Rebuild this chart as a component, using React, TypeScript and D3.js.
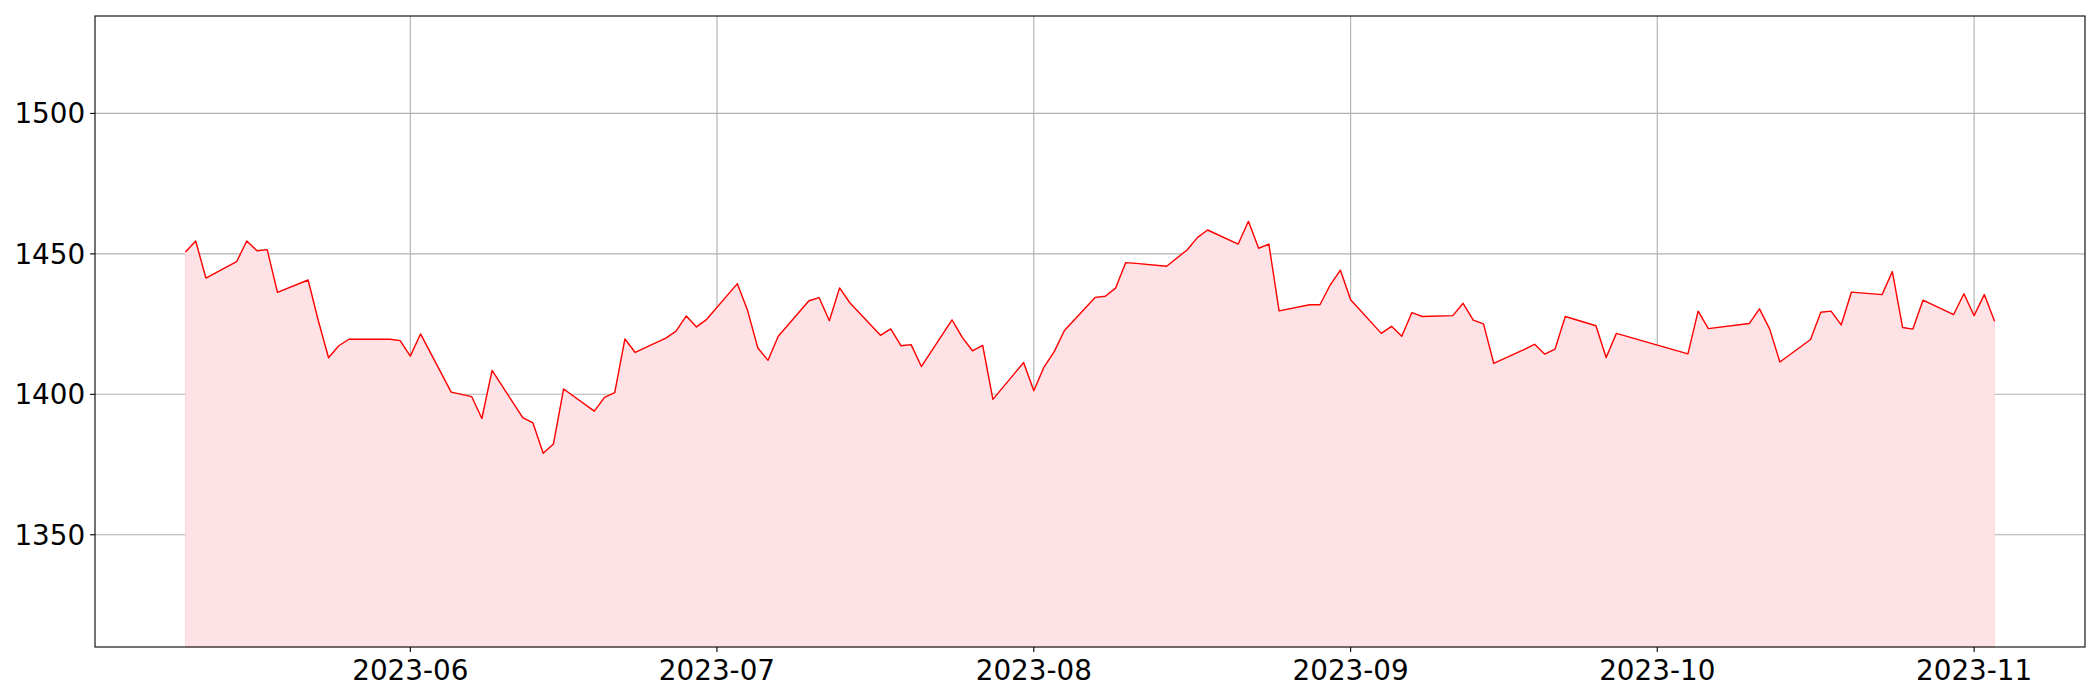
import React from "react";
import * as d3 from "d3";

const dates: string[] = [
  "2023-05-10","2023-05-11","2023-05-12","2023-05-15","2023-05-16","2023-05-17","2023-05-18","2023-05-19",
  "2023-05-22","2023-05-23","2023-05-24","2023-05-25","2023-05-26","2023-05-30","2023-05-31",
  "2023-06-01","2023-06-02","2023-06-05","2023-06-07","2023-06-08","2023-06-09","2023-06-12","2023-06-13",
  "2023-06-14","2023-06-15","2023-06-16","2023-06-19","2023-06-20","2023-06-21","2023-06-22","2023-06-23",
  "2023-06-26","2023-06-27","2023-06-28","2023-06-29","2023-06-30",
  "2023-07-03","2023-07-04","2023-07-05","2023-07-06","2023-07-07","2023-07-10","2023-07-11","2023-07-12",
  "2023-07-13","2023-07-14","2023-07-17","2023-07-18","2023-07-19","2023-07-20","2023-07-21","2023-07-24",
  "2023-07-25","2023-07-26","2023-07-27","2023-07-28","2023-07-31",
  "2023-08-01","2023-08-02","2023-08-03","2023-08-04","2023-08-07","2023-08-08","2023-08-09","2023-08-10",
  "2023-08-11","2023-08-14","2023-08-16","2023-08-17","2023-08-18","2023-08-21","2023-08-22","2023-08-23",
  "2023-08-24","2023-08-25","2023-08-28","2023-08-29","2023-08-30","2023-08-31",
  "2023-09-01","2023-09-04","2023-09-05","2023-09-06","2023-09-07","2023-09-08","2023-09-11","2023-09-12",
  "2023-09-13","2023-09-14","2023-09-15","2023-09-18","2023-09-19","2023-09-20","2023-09-21","2023-09-22",
  "2023-09-25","2023-09-26","2023-09-27",
  "2023-10-04","2023-10-05","2023-10-06","2023-10-10","2023-10-11","2023-10-12","2023-10-13","2023-10-16",
  "2023-10-17","2023-10-18","2023-10-19","2023-10-20","2023-10-23","2023-10-24","2023-10-25","2023-10-26",
  "2023-10-27","2023-10-30","2023-10-31",
  "2023-11-01","2023-11-02","2023-11-03",
];

const values: number[] = [
  1450.7,1454.6,1441.4,1447.2,1454.6,1451.1,1451.5,1436.3,
  1440.7,1426.2,1413.0,1417.3,1419.6,1419.6,1419.1,
  1413.6,1421.5,1400.8,1399.2,1391.4,1408.5,1391.7,1389.8,
  1379.0,1382.3,1401.9,1394.0,1398.9,1400.6,1419.7,1414.9,
  1420.0,1422.5,1427.9,1424.0,1426.7,
  1439.4,1429.8,1416.5,1412.1,1420.7,1433.3,1434.4,1426.2,
  1437.9,1432.6,1421.0,1423.3,1417.3,1417.7,1409.9,1426.5,
  1420.3,1415.5,1417.4,1398.2,1411.3,
  1401.3,1409.7,1415.2,1422.7,1434.5,1434.9,1437.8,1446.9,
  1446.6,1445.6,1451.4,1455.8,1458.5,1453.5,1461.6,1452.0,
  1453.5,1429.7,1431.9,1431.9,1438.9,1444.2,
  1433.7,1421.7,1424.2,1420.7,1429.1,1427.7,1428.0,1432.4,
  1426.4,1425.1,1411.0,1416.0,1417.8,1414.3,1416.1,1427.7,
  1424.4,1413.1,1421.7,
  1414.4,1429.6,1423.4,1425.2,1430.4,1423.2,1411.5,1419.5,
  1429.2,1429.6,1424.7,1436.4,1435.5,1443.7,1423.8,1423.2,
  1433.5,1428.4,1435.8,
  1428.0,1435.5,1426.0,
];

const yTicks: number[] = [1350, 1400, 1450, 1500];
const xTickLabels: string[] = ["2023-06", "2023-07", "2023-08", "2023-09", "2023-10", "2023-11"];

const W = 2100, H = 700;
const L = 95, R = 2085, T = 16, B = 647;
const FONT = "'DejaVu Sans', sans-serif";
const FS = 27.8;

export default function App() {
  const parse = d3.utcParse("%Y-%m-%d");
  const data = dates.map((d, i) => ({ t: parse(d) as Date, v: values[i] }));
  const t0 = data[0].t.getTime();
  const t1 = data[data.length - 1].t.getTime();
  const span = t1 - t0;
  const x = d3.scaleUtc().domain([new Date(t0 - 0.05 * span), new Date(t1 + 0.05 * span)]).range([L, R]);
  const vmin = d3.min(values) as number;
  const vmax = d3.max(values) as number;
  const y = d3.scaleLinear().domain([vmin * 0.95, vmax * 1.05]).range([B, T]);

  const line = d3.line<{ t: Date; v: number }>().x(d => x(d.t)).y(d => y(d.v));
  const area = d3.area<{ t: Date; v: number }>().x(d => x(d.t)).y0(B).y1(d => y(d.v));
  const parseM = d3.utcParse("%Y-%m");
  const xTicks = xTickLabels.map(s => ({ s, t: parseM(s) as Date }));

  return (
    <svg width={W} height={H} style={{ position: "absolute", left: 0, top: 0, background: "#fff" }}>
      <rect x={0} y={0} width={W} height={H} fill="#fff" />
      {yTicks.map(v => (
        <line key={"gy" + v} x1={L} x2={R} y1={y(v)} y2={y(v)} stroke="#b0b0b0" strokeWidth={1.1} />
      ))}
      {xTicks.map(d => (
        <line key={"gx" + d.s} x1={x(d.t)} x2={x(d.t)} y1={T} y2={B} stroke="#b0b0b0" strokeWidth={1.1} />
      ))}
      <path d={area(data) || ""} fill="#ffe2e5" stroke="#ffd6db" strokeWidth={1} />
      <path d={line(data) || ""} fill="none" stroke="#ff0000" strokeWidth={1.4} strokeLinejoin="round" />
      <rect x={L} y={T} width={R - L} height={B - T} fill="none" stroke="#000" strokeWidth={1.1} />
      {yTicks.map(v => (
        <g key={"ty" + v}>
          <line x1={L - 4.9} x2={L} y1={y(v)} y2={y(v)} stroke="#000" strokeWidth={1.1} />
          <text x={L - 9.8} y={y(v)} dy="0.36em" textAnchor="end" fontFamily={FONT} fontSize={FS} fill="#000">
            {v}
          </text>
        </g>
      ))}
      {xTicks.map(d => (
        <g key={"tx" + d.s}>
          <line x1={x(d.t)} x2={x(d.t)} y1={B} y2={B + 4.9} stroke="#000" strokeWidth={1.1} />
          <text x={x(d.t)} y={B + 33} textAnchor="middle" fontFamily={FONT} fontSize={FS} fill="#000">
            {d.s}
          </text>
        </g>
      ))}
    </svg>
  );
}
